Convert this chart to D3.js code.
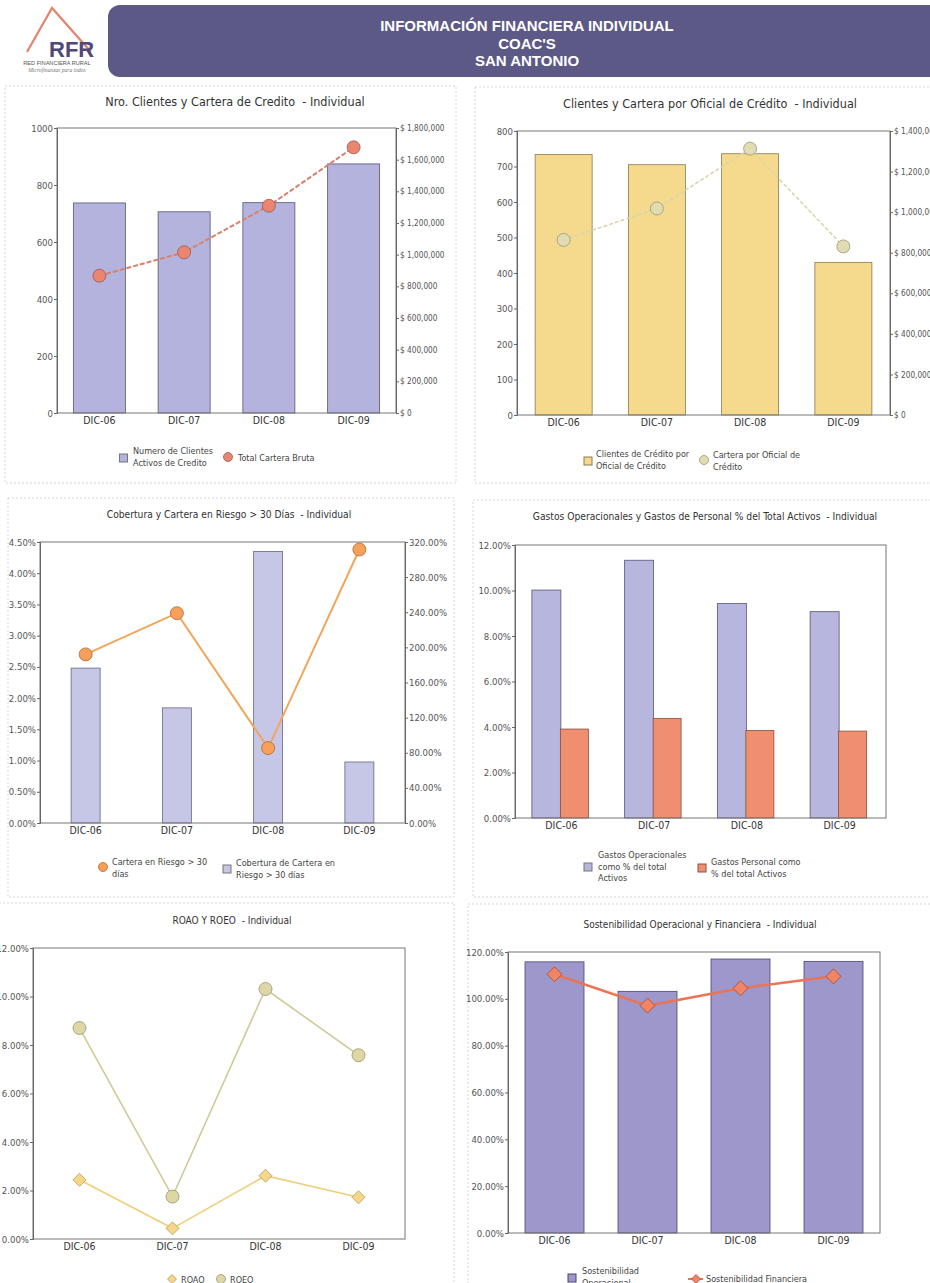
<!DOCTYPE html>
<html>
<head>
<meta charset="utf-8">
<script src="https://cdn.jsdelivr.net/npm/d3@7/dist/d3.min.js"></script>
<style>
  body { margin: 0; background: #fff; }
  text { font-family: 'DejaVu Sans Condensed', 'DejaVu Sans', sans-serif; white-space: pre; }
</style>
</head>
<body>
<div id="hoja"></div>
<script>
const categorias = ['DIC-06', 'DIC-07', 'DIC-08', 'DIC-09'];

const clientesActivos = [737, 706, 738, 874];
const carteraBruta = [867000, 1015000, 1309000, 1678000];

const clientesPorOficial = [734, 705, 736, 430];
const carteraPorOficial = [863000, 1018000, 1313000, 831000];

const carteraRiesgo = [0.0270, 0.0336, 0.0120, 0.0438];
const coberturaRiesgo = [1.764, 1.311, 3.093, 0.695];

const gastosOperacionales = [0.1002, 0.1133, 0.0943, 0.0907];
const gastosPersonal = [0.0391, 0.0438, 0.0385, 0.0382];

const roao = [0.0244, 0.0044, 0.0261, 0.0172];
const roeo = [0.0870, 0.0175, 0.1031, 0.0758];

const sostOperacional = [1.158, 1.032, 1.170, 1.160];
const sostFinanciera = [1.105, 0.971, 1.045, 1.096];

const titulosEncabezado = ['INFORMACIÓN FINANCIERA INDIVIDUAL', "COAC'S", 'SAN ANTONIO'];

const fmtPct = d3.format('.2%');
const fmtDolar = d => '$ ' + d3.format(',')(d);

const svg = d3.select('#hoja').append('svg')
  .attr('width', 930)
  .attr('height', 1283);

// ---------- Encabezado ----------
svg.append('rect')
  .attr('x', 108).attr('y', 5).attr('width', 840).attr('height', 72)
  .attr('rx', 12)
  .attr('fill', '#5d5986');
svg.selectAll('.enc')
  .data(titulosEncabezado)
  .enter().append('text')
  .attr('x', 527)
  .attr('y', (d, i) => 31 + i * 17.5)
  .attr('text-anchor', 'middle')
  .style('font-family', "'Liberation Sans', Arial, sans-serif")
  .style('font-weight', 'bold')
  .style('font-size', '15px')
  .attr('fill', '#fff')
  .text(d => d);

// logo RFR
svg.append('path')
  .attr('d', 'M27,52 L52,8 L91,52')
  .attr('fill', 'none')
  .attr('stroke', '#e4836c')
  .attr('stroke-width', 2.2);
svg.append('text')
  .attr('x', 49).attr('y', 57)
  .style('font-family', "'Liberation Sans', Arial, sans-serif")
  .style('font-weight', 'bold').style('font-size', '22px')
  .attr('fill', '#4f4878')
  .text('RFR');
svg.append('text')
  .attr('x', 57).attr('y', 65)
  .attr('text-anchor', 'middle')
  .style('font-family', "'Liberation Sans', Arial, sans-serif")
  .style('font-size', '5.6px')
  .attr('fill', '#555')
  .text('RED FINANCIERA RURAL');
svg.append('text')
  .attr('x', 57).attr('y', 72)
  .attr('text-anchor', 'middle')
  .style('font-family', "'Liberation Serif', serif")
  .style('font-style', 'italic')
  .style('font-size', '5.6px')
  .attr('fill', '#777')
  .text('Microfinanzas para todos');

// ---------- utilidades ----------
function marco(p) {
  // borde punteado del panel
  svg.append('rect')
    .attr('x', p.x0).attr('y', p.y0)
    .attr('width', p.x1 - p.x0).attr('height', p.y1 - p.y0)
    .attr('fill', 'none')
    .attr('stroke', '#d6d6d6')
    .attr('stroke-dasharray', '2,2');
  svg.append('text')
    .attr('x', p.tx).attr('y', p.ty)
    .attr('text-anchor', 'middle')
    .style('font-size', p.fs + 'px')
    .attr('fill', '#333')
    .text(p.titulo);

  const x = d3.scaleBand().domain(categorias).range([p.l, p.r]);
  const gx = svg.append('g')
    .attr('transform', 'translate(0,' + p.b + ')')
    .call(d3.axisBottom(x).tickSize(0).tickPadding(4));
  gx.select('.domain').remove();
  gx.selectAll('text').style('font-size', '10.5px').attr('fill', '#333')
    .style('font-family', "'DejaVu Sans Condensed', 'DejaVu Sans', sans-serif");
  return x;
}

function ejeY(y, lado, xPos, valores, fmt, tam) {
  const eje = (lado === 'left' ? d3.axisLeft(y) : d3.axisRight(y))
    .tickValues(valores).tickFormat(fmt).tickSize(3).tickPadding(1);
  const g = svg.append('g')
    .attr('transform', 'translate(' + xPos + ',0)')
    .call(eje);
  g.select('.domain').attr('stroke', '#666');
  g.selectAll('line').attr('stroke', '#666');
  g.selectAll('text').style('font-size', (tam || 9.5) + 'px').attr('fill', '#555')
    .style('font-family', "'DejaVu Sans Condensed', 'DejaVu Sans', sans-serif");
}

function caja(p) {
  svg.append('rect')
    .attr('x', p.l).attr('y', p.t)
    .attr('width', p.r - p.l).attr('height', p.b - p.t)
    .attr('fill', 'none')
    .attr('stroke', '#777')
    .attr('stroke-width', 1);
}

function leyendaTexto(x, y, lineas) {
  const t = svg.append('text')
    .attr('x', x).attr('y', y)
    .style('font-size', '9px')
    .attr('fill', '#444');
  lineas.forEach((l, i) => {
    t.append('tspan').attr('x', x).attr('dy', i === 0 ? 0 : 11.5).text(l);
  });
}

function rombo(cx, cy, s) {
  return 'M' + cx + ',' + (cy - s) + ' L' + (cx + s) + ',' + cy + ' L' + cx + ',' + (cy + s) + ' L' + (cx - s) + ',' + cy + ' Z';
}

function barras(x, y, datos, ancho, color, borde, desp) {
  svg.append('g').selectAll('rect')
    .data(datos)
    .enter().append('rect')
    .attr('x', (d, i) => x(categorias[i]) + x.bandwidth() / 2 - ancho / 2 + (desp || 0))
    .attr('y', d => y(d))
    .attr('width', ancho)
    .attr('height', d => y(0) - y(d))
    .attr('fill', color)
    .attr('stroke', borde)
    .attr('stroke-width', 0.8);
}

function linea(x, y, datos, color, ancho, guiones) {
  const gen = d3.line()
    .x((d, i) => x(categorias[i]) + x.bandwidth() / 2)
    .y(d => y(d));
  svg.append('path')
    .attr('d', gen(datos))
    .attr('fill', 'none')
    .attr('stroke', color)
    .attr('stroke-width', ancho)
    .attr('stroke-dasharray', guiones || null);
}

function circulos(x, y, datos, r, relleno, borde) {
  svg.append('g').selectAll('circle')
    .data(datos)
    .enter().append('circle')
    .attr('cx', (d, i) => x(categorias[i]) + x.bandwidth() / 2)
    .attr('cy', d => y(d))
    .attr('r', r)
    .attr('fill', relleno)
    .attr('stroke', borde)
    .attr('stroke-width', 0.8);
}

function rombos(x, y, datos, s, relleno, borde) {
  svg.append('g').selectAll('path')
    .data(datos)
    .enter().append('path')
    .attr('d', (d, i) => rombo(x(categorias[i]) + x.bandwidth() / 2, y(d), s))
    .attr('fill', relleno)
    .attr('stroke', borde)
    .attr('stroke-width', 0.8);
}

// ---------- 1. Nro. Clientes y Cartera de Credito ----------
{
  const p = { x0: 5, y0: 86, x1: 456, y1: 483, l: 57, t: 128, r: 396, b: 413,
    titulo: 'Nro. Clientes y Cartera de Credito  - Individual', tx: 235, ty: 106, fs: 12.5 };
  const x = marco(p);
  const y = d3.scaleLinear().domain([0, 1000]).range([p.b, p.t]);
  const y2 = d3.scaleLinear().domain([0, 1800000]).range([p.b, p.t]);
  barras(x, y, clientesActivos, 52, '#b3b3dd', '#555577');
  caja(p);
  ejeY(y, 'left', p.l, d3.range(0, 1001, 200), d3.format('d'));
  ejeY(y2, 'right', p.r, d3.range(0, 1800001, 200000), fmtDolar, 8.2);
  linea(x, y2, carteraBruta, '#d9806c', 2, '5,2');
  circulos(x, y2, carteraBruta, 6.5, '#ea8570', '#9a5a50');
  // leyenda
  svg.append('rect').attr('x', 119.5).attr('y', 454).attr('width', 8).attr('height', 8)
    .attr('fill', '#b3b3dd').attr('stroke', '#777');
  leyendaTexto(133, 454, ['Numero de Clientes', 'Activos de Credito']);
  svg.append('circle').attr('cx', 228).attr('cy', 457).attr('r', 4.5)
    .attr('fill', '#ea8570').attr('stroke', '#9a5a50').attr('stroke-width', 0.8);
  leyendaTexto(238, 461, ['Total Cartera Bruta']);
}

// ---------- 2. Clientes y Cartera por Oficial ----------
{
  const p = { x0: 475, y0: 87, x1: 940, y1: 483, l: 517, t: 131, r: 890, b: 415,
    titulo: 'Clientes y Cartera por Oficial de Crédito  - Individual', tx: 710, ty: 108, fs: 12.5 };
  const x = marco(p);
  const y = d3.scaleLinear().domain([0, 800]).range([p.b, p.t]);
  const y2 = d3.scaleLinear().domain([0, 1400000]).range([p.b, p.t]);
  barras(x, y, clientesPorOficial, 57, '#f5da8e', '#8a7a50');
  caja(p);
  ejeY(y, 'left', p.l, d3.range(0, 801, 100), d3.format('d'));
  ejeY(y2, 'right', p.r, d3.range(0, 1400001, 200000), fmtDolar, 8.2);
  linea(x, y2, carteraPorOficial, '#d8d5ab', 1.5, '4,2');
  circulos(x, y2, carteraPorOficial, 6.5, '#e2dcb2', '#9a9578');
  svg.append('rect').attr('x', 584).attr('y', 457).attr('width', 8).attr('height', 8)
    .attr('fill', '#f5da8e').attr('stroke', '#8a7a50');
  leyendaTexto(596, 457, ['Clientes de Crédito por', 'Oficial de Crédito']);
  svg.append('circle').attr('cx', 704).attr('cy', 460).attr('r', 4.5)
    .attr('fill', '#e2dcb2').attr('stroke', '#9a9578').attr('stroke-width', 0.8);
  leyendaTexto(713, 458, ['Cartera por Oficial de', 'Crédito']);
}

// ---------- 3. Cobertura y Cartera en Riesgo ----------
{
  const p = { x0: 8, y0: 498, x1: 454, y1: 897, l: 40, t: 542, r: 405, b: 823,
    titulo: 'Cobertura y Cartera en Riesgo > 30 Días  - Individual', tx: 229, ty: 518, fs: 10.2 };
  const x = marco(p);
  const y = d3.scaleLinear().domain([0, 0.045]).range([p.b, p.t]);
  const y2 = d3.scaleLinear().domain([0, 3.2]).range([p.b, p.t]);
  barras(x, y2, coberturaRiesgo, 29, '#c6c6e6', '#666688');
  caja(p);
  ejeY(y, 'left', p.l, d3.range(0, 10).map(i => i * 0.005), fmtPct);
  ejeY(y2, 'right', p.r, d3.range(0, 9).map(i => i * 0.4), fmtPct);
  linea(x, y, carteraRiesgo, '#f2a65a', 2);
  circulos(x, y, carteraRiesgo, 6.5, '#f6a05c', '#b06a30');
  svg.append('circle').attr('cx', 103).attr('cy', 867).attr('r', 4.5)
    .attr('fill', '#f6a05c').attr('stroke', '#b06a30').attr('stroke-width', 0.8);
  leyendaTexto(112, 865, ['Cartera en Riesgo > 30', 'días']);
  svg.append('rect').attr('x', 223).attr('y', 865).attr('width', 8).attr('height', 8)
    .attr('fill', '#c6c6e6').attr('stroke', '#777');
  leyendaTexto(236, 866, ['Cobertura de Cartera en', 'Riesgo > 30 días']);
}

// ---------- 4. Gastos Operacionales y de Personal ----------
{
  const p = { x0: 473, y0: 500, x1: 940, y1: 897, l: 515, t: 545, r: 886, b: 818,
    titulo: 'Gastos Operacionales y Gastos de Personal % del Total Activos  - Individual', tx: 705, ty: 520, fs: 10.2 };
  const x = marco(p);
  const y = d3.scaleLinear().domain([0, 0.12]).range([p.b, p.t]);
  barras(x, y, gastosOperacionales, 29, '#b6b6de', '#555577', -15);
  barras(x, y, gastosPersonal, 28, '#f08e70', '#8a5040', 13);
  caja(p);
  ejeY(y, 'left', p.l, d3.range(0, 7).map(i => i * 0.02), fmtPct);
  svg.append('rect').attr('x', 584).attr('y', 863).attr('width', 8).attr('height', 8)
    .attr('fill', '#b6b6de').attr('stroke', '#777');
  leyendaTexto(598, 858, ['Gastos Operacionales', 'como % del total', 'Activos']);
  svg.append('rect').attr('x', 698).attr('y', 864).attr('width', 8).attr('height', 8)
    .attr('fill', '#f08e70').attr('stroke', '#8a5040');
  leyendaTexto(711, 865, ['Gastos Personal como', '% del total Activos']);
}

// ---------- 5. ROAO y ROEO ----------
{
  const p = { x0: -5, y0: 903, x1: 454, y1: 1290, l: 33, t: 948, r: 405, b: 1239,
    titulo: 'ROAO Y ROEO  - Individual', tx: 232, ty: 924, fs: 10 };
  const x = marco(p);
  const y = d3.scaleLinear().domain([0, 0.12]).range([p.b, p.t]);
  caja(p);
  ejeY(y, 'left', p.l, d3.range(0, 7).map(i => i * 0.02), fmtPct);
  linea(x, y, roeo, '#cdcb98', 1.6);
  linea(x, y, roao, '#f0cf78', 1.6);
  circulos(x, y, roeo, 6.5, '#ddd7a6', '#9c9670');
  rombos(x, y, roao, 6.5, '#f6d789', '#b39a55');
  svg.append('path').attr('d', rombo(172, 1279, 4.5))
    .attr('fill', '#f6d789').attr('stroke', '#b39a55').attr('stroke-width', 0.8);
  leyendaTexto(181, 1283, ['ROAO']);
  svg.append('circle').attr('cx', 221).attr('cy', 1279).attr('r', 4.5)
    .attr('fill', '#ddd7a6').attr('stroke', '#9c9670').attr('stroke-width', 0.8);
  leyendaTexto(230, 1283, ['ROEO']);
}

// ---------- 6. Sostenibilidad ----------
{
  const p = { x0: 468, y0: 904, x1: 940, y1: 1290, l: 508, t: 952, r: 880, b: 1233,
    titulo: 'Sostenibilidad Operacional y Financiera  - Individual', tx: 700, ty: 928, fs: 10 };
  const x = marco(p);
  const y = d3.scaleLinear().domain([0, 1.2]).range([p.b, p.t]);
  barras(x, y, sostOperacional, 59, '#9d97cc', '#4a4670');
  caja(p);
  ejeY(y, 'left', p.l, d3.range(0, 7).map(i => i * 0.2), fmtPct);
  linea(x, y, sostFinanciera, '#ea7454', 2.5);
  rombos(x, y, sostFinanciera, 7.5, '#f08464', '#a04a30');
  svg.append('rect').attr('x', 568).attr('y', 1274).attr('width', 8).attr('height', 8)
    .attr('fill', '#9d97cc').attr('stroke', '#4a4670');
  leyendaTexto(582, 1274, ['Sostenibilidad', 'Operacional']);
  svg.append('line').attr('x1', 688).attr('x2', 703).attr('y1', 1279).attr('y2', 1279)
    .attr('stroke', '#ea7454').attr('stroke-width', 2);
  svg.append('path').attr('d', rombo(696, 1279, 4.5))
    .attr('fill', '#f08464').attr('stroke', '#a04a30').attr('stroke-width', 0.8);
  leyendaTexto(706, 1282, ['Sostenibilidad Financiera']);
}
</script>
</body>
</html>
